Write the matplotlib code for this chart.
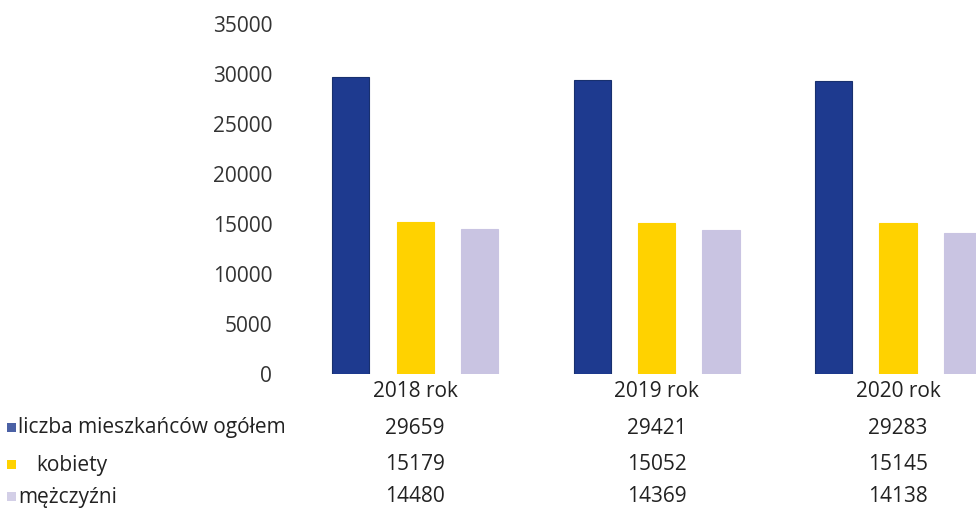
import matplotlib
matplotlib.use("Agg")
import matplotlib.pyplot as plt
import matplotlib.transforms as mtransforms
from matplotlib.patches import Rectangle
import numpy as np

plt.rcParams['font.family'] = ['Open Sans', 'DejaVu Sans']

categories = ["2018 rok", "2019 rok", "2020 rok"]
series_names = ["liczba mieszkańców ogółem", "kobiety", "mężczyźni"]
ogolem = [29659, 29421, 29283]
kobiety = [15179, 15052, 15145]
mezczyzni = [14480, 14369, 14138]
yticks = [0, 5000, 10000, 15000, 20000, 25000, 30000, 35000]

series = [ogolem, kobiety, mezczyzni]
colors = ["#1e3a8f", "#ffd200", "#c9c4e2"]

FS = 15

fig = plt.figure(figsize=(9.76, 5.09), dpi=100)
ax = fig.add_axes([0.3017, 0.2652, 0.742, 0.6876])

x = np.arange(len(categories))
width = 0.154
offset = 0.267
for i, (vals, c) in enumerate(zip(series, colors)):
    ax.bar(x + (i - 1) * offset, vals, width=width, color=c,
           edgecolor="#18306e" if i == 0 else c, linewidth=0.8)

ax.set_xlim(-0.5, len(categories) - 0.5)
ax.set_ylim(0, 35000)
ax.set_yticks(yticks)
ax.set_yticklabels([str(t) for t in yticks], fontsize=FS, color="#333333")
ax.tick_params(axis='y', length=0, pad=16)
ax.set_xticks(x)
ax.set_xticklabels(categories, fontsize=FS, color="#222222")
ax.tick_params(axis='x', length=0, pad=5)
for s in ax.spines.values():
    s.set_visible(False)

# data table below chart
trans = mtransforms.blended_transform_factory(ax.transData, fig.transFigure)
row_y = [1 - 428 / 509, 1 - 465 / 509, 1 - 497 / 509]
for r, (name, vals, c) in enumerate(zip(series_names, series, colors)):
    for j, v in enumerate(vals):
        ax.text(j, row_y[r], str(v), transform=trans, ha='center', va='center',
                fontsize=FS, color="#222222", clip_on=False)
    lbl_x = 18 / 976 if r != 1 else 36 / 976
    fig.text(lbl_x, row_y[r], name, ha='left', va='center', fontsize=FS, color="#222222")
    fig.patches.append(Rectangle((7 / 976, row_y[r] - 4 / 509), 9 / 976, 9 / 509,
                                 transform=fig.transFigure, facecolor=c,
                                 edgecolor='none', alpha=0.8 if r != 1 else 1))

fig.savefig("out.png", dpi=100)
